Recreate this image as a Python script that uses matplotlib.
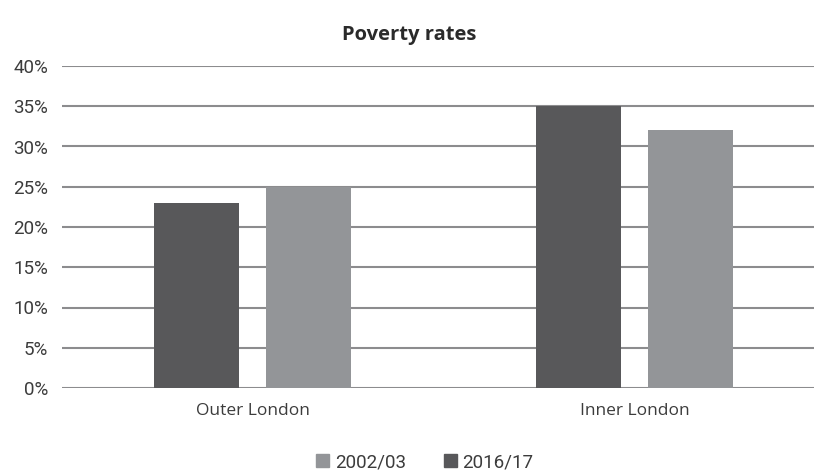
import matplotlib
matplotlib.use("Agg")
import matplotlib.pyplot as plt
from matplotlib.patches import Patch

categories = ["Outer London", "Inner London"]
series_names = ["2002/03", "2016/17"]
rate_2016 = [23, 35]
rate_2002 = [25, 32]
yticks = [0, 5, 10, 15, 20, 25, 30, 35, 40]

dark = "#58585a"
light = "#939598"
grid_col = "#8c8c8e"
text_col = "#3c3c3c"

fig = plt.figure(figsize=(8.14, 4.74), dpi=100)
ax = fig.add_axes([62 / 814, 86 / 474, (814 - 62) / 814, 322 / 474])

x = list(range(len(categories)))
w = 0.2225
off = 0.147
ax.bar([i - off for i in x], rate_2016, width=w, color=dark, zorder=3)
ax.bar([i + off for i in x], rate_2002, width=w, color=light, zorder=3)

ax.set_xlim(-0.499, 1.47)
ax.set_ylim(0, 40)
ax.set_yticks(yticks)
ax.set_yticklabels([f"{v}%" for v in yticks], fontfamily="Roboto", fontsize=13.5, color=text_col)
ax.set_xticks(x)
ax.set_xticklabels(categories, fontfamily="Open Sans", fontsize=12.5, color=text_col)
ax.tick_params(axis="both", length=0)
ax.tick_params(axis="y", pad=10)
ax.tick_params(axis="x", pad=11)
for v in yticks:
    ax.axhline(v, color=grid_col, lw=1.5, zorder=1)
for s in ax.spines.values():
    s.set_visible(False)

fig.text(0.503, 0.927, "Poverty rates", ha="center", va="center",
         fontfamily="Open Sans", fontweight="bold", fontsize=14.5, color="#2a2a2a")

handles = [Patch(color=light), Patch(color=dark)]
fig.legend(handles, series_names, loc="center", bbox_to_anchor=(0.522, 0.025),
           ncol=2, frameon=False, handlelength=0.7, handleheight=0.7,
           handletextpad=0.3, columnspacing=2.0,
           prop={"family": "Roboto", "size": 13.5}, labelcolor=text_col)

fig.savefig("out.png", dpi=100)
